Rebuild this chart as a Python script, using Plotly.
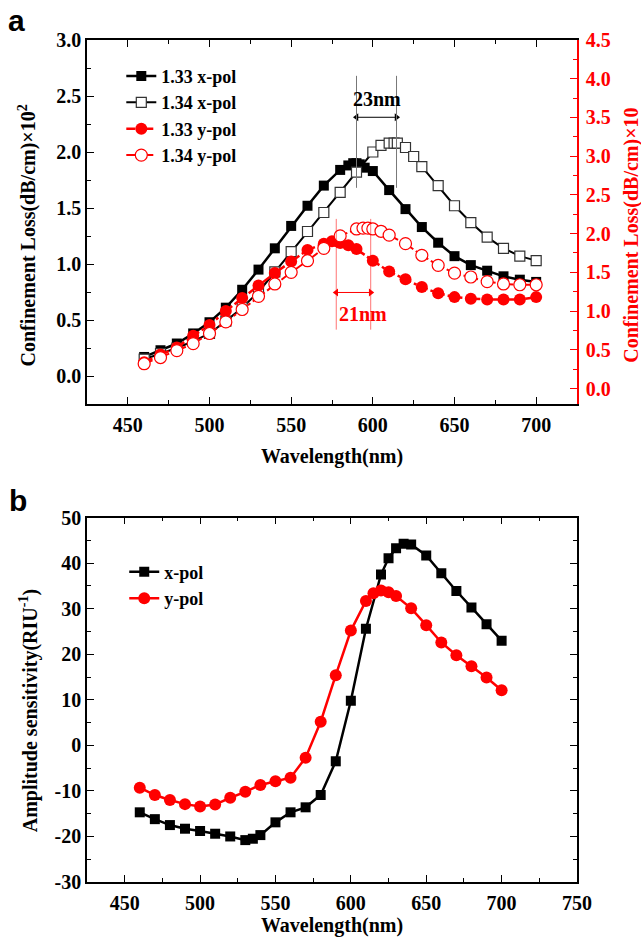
import plotly.graph_objects as go

# ---------------- Panel a data ----------------
x133x = [460, 470, 480, 490, 500, 510, 520, 530, 540, 550, 560, 570, 580, 585, 588, 590, 592, 595, 600,
         610, 620, 630, 640, 650, 660, 670, 680, 690, 700]
y133x = [0.17, 0.23, 0.29, 0.38, 0.48, 0.61, 0.77, 0.95, 1.14, 1.34, 1.52, 1.70, 1.84, 1.88, 1.90, 1.90, 1.89, 1.86, 1.83,
         1.66, 1.49, 1.33, 1.19, 1.07, 0.99, 0.94, 0.89, 0.86, 0.84]

x134x = [460, 470, 480, 490, 500, 510, 520, 530, 540, 550, 560, 570, 580, 590, 600, 605, 610, 613, 615,
         620, 625, 630, 640, 650, 660, 670, 680, 690, 700]
y134x = [0.15, 0.20, 0.25, 0.31, 0.38, 0.49, 0.61, 0.75, 0.93, 1.11, 1.29, 1.46, 1.64, 1.82, 2.00, 2.06, 2.08, 2.08, 2.08,
         2.04, 1.96, 1.87, 1.70, 1.52, 1.37, 1.24, 1.14, 1.07, 1.03]

x133y = [460, 470, 480, 490, 500, 510, 520, 530, 540, 550, 560, 570, 575, 578, 580, 585, 590, 600,
         610, 620, 630, 640, 650, 660, 670, 680, 690, 700]
y133y = [0.34, 0.44, 0.53, 0.68, 0.82, 1.00, 1.17, 1.33, 1.49, 1.64, 1.79, 1.87, 1.90, 1.90, 1.88, 1.85, 1.80, 1.65,
         1.51, 1.41, 1.31, 1.23, 1.18, 1.16, 1.15, 1.15, 1.15, 1.18]

x134y = [460, 470, 480, 490, 500, 510, 520, 530, 540, 550, 560, 570, 580, 590, 594, 597, 600, 605,
         610, 620, 630, 640, 650, 660, 670, 680, 690, 700]
y134y = [0.32, 0.40, 0.49, 0.58, 0.71, 0.86, 1.02, 1.19, 1.35, 1.50, 1.65, 1.81, 1.97, 2.06, 2.07, 2.07, 2.06, 2.03,
         1.98, 1.87, 1.72, 1.59, 1.49, 1.44, 1.38, 1.35, 1.34, 1.34]

# peak markers (wavelength) and their labels
x_peaks = [590, 614.5]
x_peak_span = [1.68, 2.68]
x_arrow_level = 2.31
x_shift_label = "23nm"
y_peaks = [577.6, 598.7]
y_peak_span = [0.76, 2.19]
y_arrow_level = 1.24
y_shift_label = "21nm"

# ---------------- Panel b data ----------------
xsx = [460, 470, 480, 490, 500, 510, 520, 530, 535, 540, 550, 560, 570, 580, 590, 600, 610, 620, 625, 630, 635,
       640, 650, 660, 670, 680, 690, 700]
ysx = [-14.7, -16.2, -17.5, -18.3, -18.8, -19.4, -20.0, -20.8, -20.5, -19.7, -16.9, -14.7, -13.6, -10.9, -3.5,
       9.8, 25.6, 37.5, 41.1, 43.3, 44.3, 44.1, 41.7, 37.8, 33.9, 30.3, 26.6, 23.0]

xsy = [460, 470, 480, 490, 500, 510, 520, 530, 540, 550, 560, 570, 580, 590, 600, 610, 615, 620, 625, 630,
       640, 650, 660, 670, 680, 690, 700]
ysy = [-9.3, -10.9, -12.0, -12.9, -13.4, -13.0, -11.5, -10.2, -8.7, -7.9, -7.1, -2.7, 5.2, 15.4, 25.2,
       31.7, 33.4, 34.0, 33.6, 32.8, 30.1, 26.4, 22.6, 19.8, 17.4, 14.9, 12.1]

ticks_b_y = [-30, -20, -10, 0, 10, 20, 30, 40, 50]

SERIF = "Liberation Serif"
RED = "#ff0000"
FS = 20
FT = 20
bold = dict(family=SERIF, size=FS, color="black", weight="bold")
bold_red = dict(family=SERIF, size=FS, color=RED, weight="bold")
title_font = dict(family=SERIF, size=FT, color="black", weight="bold")
title_font_red = dict(family=SERIF, size=FT, color=RED, weight="bold")

fig = go.Figure()

# Panel a traces
fig.add_trace(go.Scatter(x=x133x, y=y133x, name="1.33 x-pol", mode="lines+markers",
                         line=dict(color="black", width=2.5),
                         marker=dict(symbol="square", size=10, color="black"),
                         xaxis="x", yaxis="y", legend="legend"))
fig.add_trace(go.Scatter(x=x134x, y=y134x, name="1.34 x-pol", mode="lines+markers",
                         line=dict(color="black", width=2),
                         marker=dict(symbol="square", size=10, color="white",
                                     line=dict(color="#333333", width=1.2)),
                         xaxis="x", yaxis="y", legend="legend"))
fig.add_trace(go.Scatter(x=x133y, y=y133y, name="1.33 y-pol", mode="lines+markers",
                         line=dict(color=RED, width=2.5, dash="dashdot"),
                         marker=dict(symbol="circle", size=12, color=RED),
                         xaxis="x", yaxis="y2", legend="legend"))
fig.add_trace(go.Scatter(x=x134y, y=y134y, name="1.34 y-pol", mode="lines+markers",
                         line=dict(color=RED, width=2, dash="dashdot"),
                         marker=dict(symbol="circle", size=12, color="white",
                                     line=dict(color=RED, width=1.2)),
                         xaxis="x", yaxis="y2", legend="legend"))

# double-headed shift arrows
fig.add_trace(go.Scatter(x=x_peaks, y=[x_arrow_level] * 2, mode="lines+markers", showlegend=False,
                         line=dict(color="black", width=1),
                         marker=dict(symbol=["triangle-left", "triangle-right"], size=7, color="black"),
                         xaxis="x", yaxis="y", hoverinfo="skip"))
fig.add_trace(go.Scatter(x=y_peaks, y=[y_arrow_level] * 2, mode="lines+markers", showlegend=False,
                         line=dict(color=RED, width=1),
                         marker=dict(symbol=["triangle-left", "triangle-right"], size=7, color=RED),
                         xaxis="x", yaxis="y2", hoverinfo="skip"))

# Panel b traces
fig.add_trace(go.Scatter(x=xsx, y=ysx, name="x-pol", mode="lines+markers",
                         line=dict(color="black", width=2.5),
                         marker=dict(symbol="square", size=10, color="black"),
                         xaxis="x2", yaxis="y3", legend="legend2"))
fig.add_trace(go.Scatter(x=xsy, y=ysy, name="y-pol", mode="lines+markers",
                         line=dict(color=RED, width=2.5),
                         marker=dict(symbol="circle", size=12, color=RED),
                         xaxis="x2", yaxis="y3", legend="legend2"))

shapes = []
for xp in x_peaks:
    shapes.append(dict(type="line", xref="x", yref="y", x0=xp, x1=xp,
                       y0=x_peak_span[0], y1=x_peak_span[1],
                       line=dict(color="#777777", width=1)))
for xp in y_peaks:
    shapes.append(dict(type="line", xref="x", yref="y2", x0=xp, x1=xp,
                       y0=y_peak_span[0], y1=y_peak_span[1],
                       line=dict(color="rgba(255,0,0,0.55)", width=1)))

annotations = [
    dict(x=(x_peaks[0] + x_peaks[1]) / 2 + 0.5, y=2.47, xref="x", yref="y", text=x_shift_label,
         showarrow=False, font=bold),
    dict(x=(y_peaks[0] + y_peaks[1]) / 2 + 6, y=0.96, xref="x", yref="y2", text=y_shift_label,
         showarrow=False, font=bold_red),
    dict(x=-0.122, y=0.768, xref="paper", yref="paper", text="Confinement Loss(dB/cm)×10<sup>2</sup>",
         textangle=-90, showarrow=False, xanchor="center", yanchor="middle", font=title_font),
    dict(x=1.111, y=0.768, xref="paper", yref="paper", text="Confinement Loss(dB/cm)×10",
         textangle=-90, showarrow=False, xanchor="center", yanchor="middle", font=title_font_red),
    dict(x=-0.12, y=0.203, xref="paper", yref="paper", text="Amplitude sensitivity(RIU<sup>-1</sup>)",
         textangle=-90, showarrow=False, xanchor="center", yanchor="middle", font=title_font),
    dict(x=-0.165, y=1.045, xref="paper", yref="paper", text="a", showarrow=False,
         xanchor="left", yanchor="top",
         font=dict(family="Liberation Sans", size=30, color="black", weight="bold")),
    dict(x=-0.163, y=0.475, xref="paper", yref="paper", text="b", showarrow=False,
         xanchor="left", yanchor="top",
         font=dict(family="Liberation Sans", size=30, color="black", weight="bold")),
]

def axis_common(**kw):
    d = dict(showgrid=False, zeroline=False, showline=True, linecolor="black", linewidth=1.5,
             ticks="inside", ticklen=7, tickwidth=1.2, tickcolor="black",
             tickfont=bold, automargin=False)
    d.update(kw)
    return d

fig.update_layout(
    width=641, height=937,
    margin=dict(l=87, r=64, t=40, b=55),
    paper_bgcolor="white", plot_bgcolor="white",
    font=dict(family=SERIF, size=FS, color="black"),
    showlegend=True,
    xaxis=axis_common(domain=[0, 1], anchor="y", range=[425, 725], tickmode="linear", tick0=450, dtick=50,
                      mirror="ticks", ticklabelstandoff=2,
                      minor=dict(ticks="inside", ticklen=4, dtick=25, tick0=425, tickcolor="black"),
                      title=dict(text="Wavelength(nm)", font=title_font, standoff=14)),
    yaxis=axis_common(domain=[0.5677, 1], anchor="x", range=[-0.25, 3.0], tickmode="linear", tick0=0, dtick=0.5,
                      tickformat=".1f",
                      minor=dict(ticks="inside", ticklen=4, dtick=0.25, tick0=0, tickcolor="black")),
    yaxis2=axis_common(overlaying="y", side="right", anchor="x", range=[-0.2, 4.5], tickmode="linear",
                       tick0=0, dtick=0.5, tickformat=".1f", linecolor=RED, tickcolor=RED,
                       tickfont=bold_red, ticklabelstandoff=3,
                       minor=dict(ticks="inside", ticklen=4, dtick=0.25, tick0=0, tickcolor=RED)),
    xaxis2=axis_common(domain=[0, 1], anchor="y3", range=[425, 750], tickmode="linear", tick0=450, dtick=50,
                       mirror="ticks", ticklabelstandoff=2,
                       minor=dict(ticks="inside", ticklen=4, dtick=25, tick0=425, tickcolor="black"),
                       title=dict(text="Wavelength(nm)", font=title_font, standoff=12)),
    yaxis3=axis_common(domain=[0, 0.4327], anchor="x2", range=[-30, 50], tickmode="array",
                       tickvals=ticks_b_y, ticktext=[str(v) for v in ticks_b_y], mirror="ticks",
                       minor=dict(ticks="inside", ticklen=4, dtick=5, tick0=0, tickcolor="black")),
    legend=dict(x=0.07, y=0.979, xanchor="left", yanchor="top", bgcolor="rgba(0,0,0,0)",
                font=dict(family=SERIF, size=18, color="black", weight="bold"), tracegroupgap=0),
    legend2=dict(x=0.076, y=0.390, xanchor="left", yanchor="top", bgcolor="rgba(0,0,0,0)",
                 font=dict(family=SERIF, size=18, color="black", weight="bold"), tracegroupgap=0),
    shapes=shapes,
    annotations=annotations,
)

fig.write_html("out.html")
